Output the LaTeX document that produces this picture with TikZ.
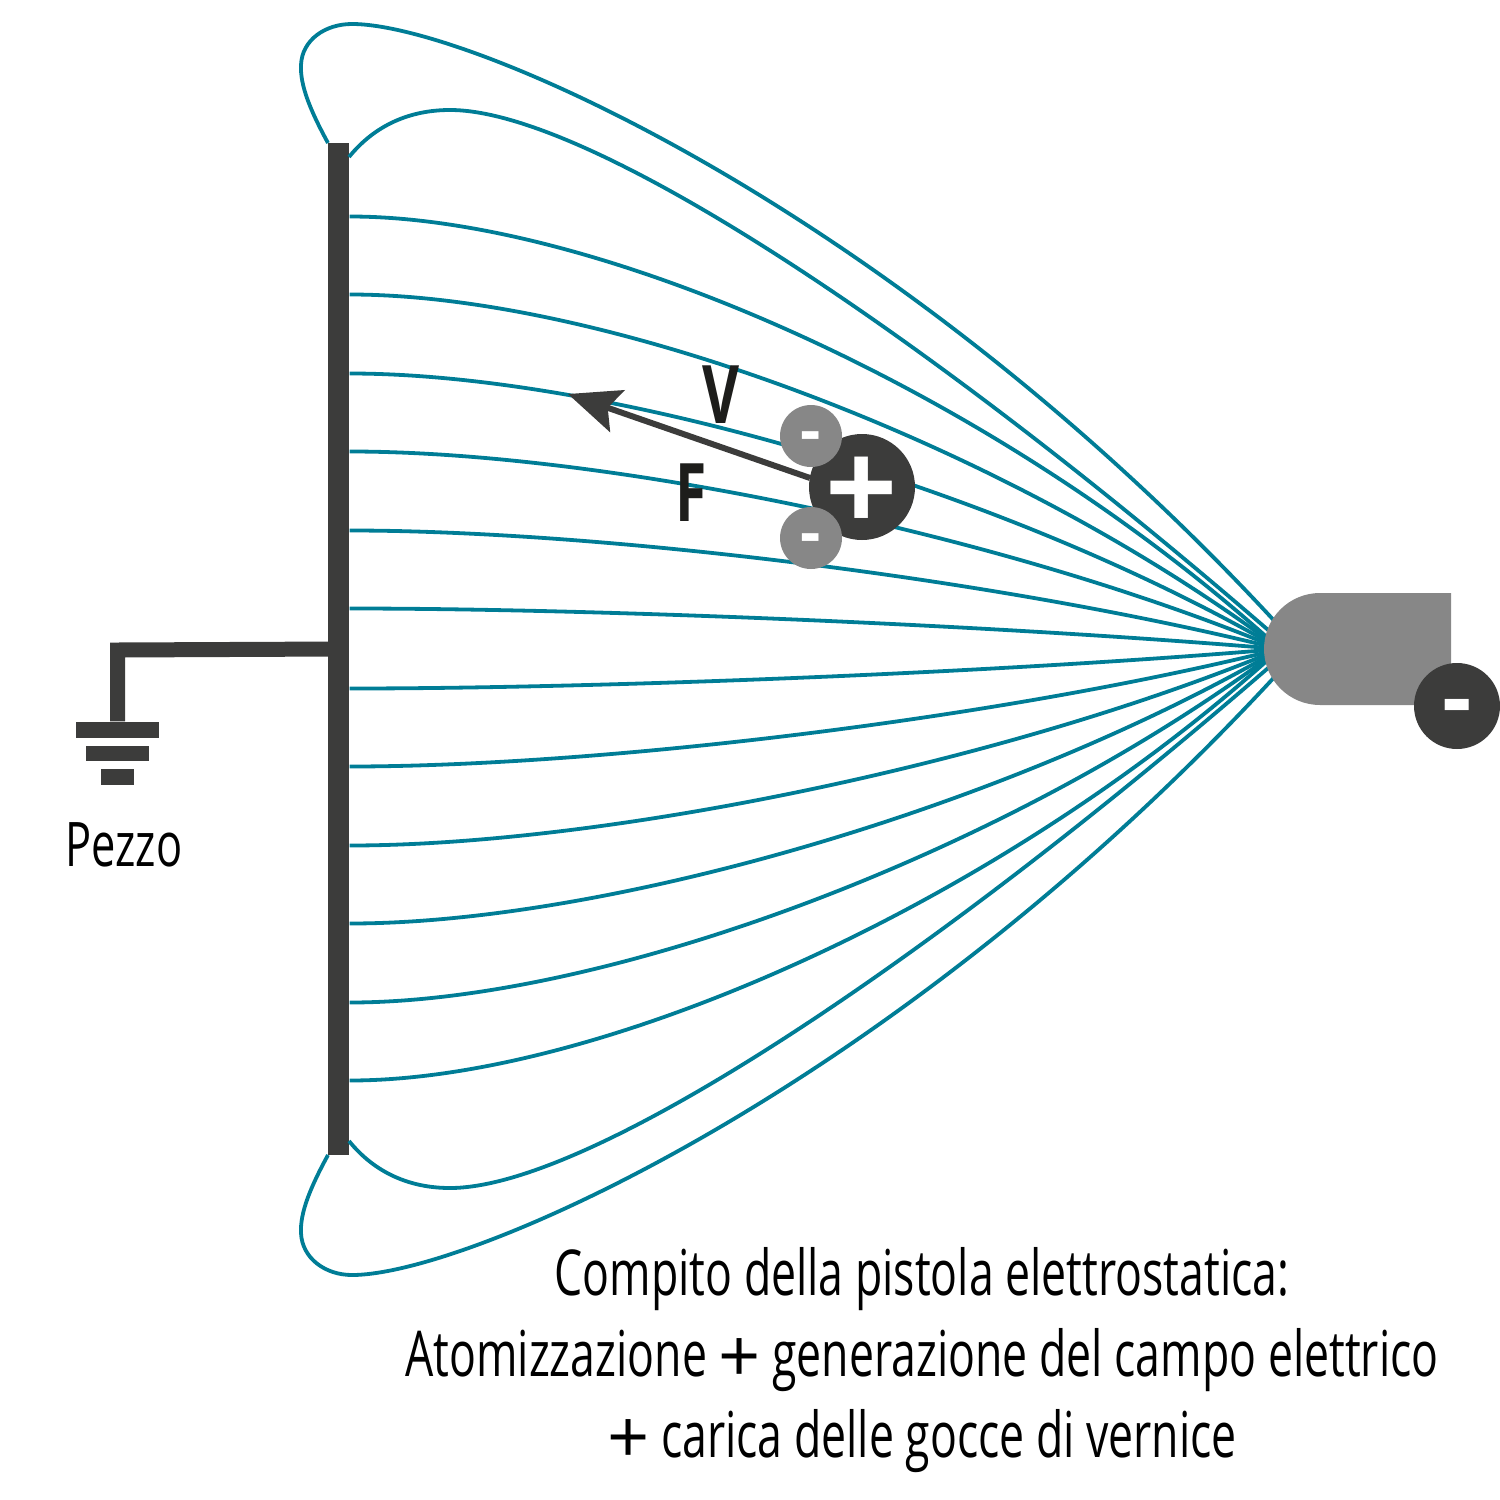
\documentclass[tikz,border=0pt]{standalone}
\usepackage{fontspec}
\setmainfont[FakeStretch=0.705]{Open Sans}
\newfontfamily\widefont{Open Sans}
\usetikzlibrary{arrows.meta}
\definecolor{fieldcol}{HTML}{007D96}
\definecolor{darkcol}{HTML}{3C3C3B}
\definecolor{greycol}{HTML}{878787}
\definecolor{inkcol}{HTML}{1D1D1B}
\newcommand{\pluschar}{\raisebox{-0.6mm}{\widefont\fontsize{21}{21}\selectfont +}}
\newcommand{\signchar}[2]{\makebox[0pt]{\smash{\raisebox{#1}{#2}}}}
\tikzset{
  field/.style={draw=fieldcol,line width=0.38mm},
  bar/.style={rectangle,fill=darkcol,inner sep=0pt},
  wire/.style={draw=darkcol,line width=1.5mm},
  force/.style={draw=darkcol,line width=0.6mm,-{Stealth[length=5.2mm,width=4.4mm,inset=1mm]}},
  bigcharge/.style={circle,fill=darkcol,text=white,inner sep=0pt},
  smallcharge/.style={circle,fill=greycol,text=white,inner sep=0pt,minimum size=6.2mm,font=\widefont\bfseries\fontsize{18}{18}\selectfont},
  letter/.style={text=inkcol,inner sep=0pt,font=\bfseries\fontsize{23}{23}\selectfont},
  caption/.style={text=black,inner sep=0pt,align=center,font=\fontsize{18}{23.05}\selectfont}
}
\begin{document}
\begin{tikzpicture}[x=0.1mm,y=-0.1mm]
\useasboundingbox (0,0) rectangle (1500,1500);

% plate
\node[bar,minimum width=2.1mm,minimum height=101.2mm] (plate) at (338.5,649) {};
\coordinate (mouth) at (1280,649);
\coordinate (mouthb) at (1290,649);
\coordinate (mouthc) at (1300,649);

% field lines
\foreach \d in {40,118,197,275,354,432} {
  \draw[field] (plate.east |- 0,648.5-\d) .. controls (600,648.5-\d) and (1000,649-0.59*\d) .. (mouth);
  \draw[field] (plate.east |- 0,648.5+\d) .. controls (600,648.5+\d) and (1000,649+0.59*\d) .. (mouth);
}

% loops
\draw[field] (349,157) .. controls (375,125) and (410,110) .. (450,110) .. controls (590,110) and (930,335) .. (mouthb);
\draw[field] (349,1141) .. controls (375,1173) and (410,1188) .. (450,1188) .. controls (590,1188) and (930,963) .. (mouthb);
\draw[field] (328,143) .. controls (310,110) and (300,85) .. (301,65) .. controls (302,40) and (325,24) .. (352,24) .. controls (470,24) and (910,215) .. (mouthc);
\draw[field] (328,1155) .. controls (310,1188) and (300,1213) .. (301,1233) .. controls (302,1258) and (325,1275) .. (352,1275) .. controls (470,1275) and (910,1083) .. (mouthc);

% gun
\fill[greycol] (1320,593) -- (1451,593) -- (1451,705) -- (1320,705) arc[start angle=270,end angle=90,radius=5.6mm] -- cycle;
\node[bigcharge,minimum size=8.6mm,font=\widefont\bfseries\fontsize{26}{26}\selectfont] (gunminus) at (1457,706) {\signchar{-2.33mm}{-}};

% ground
\node[bar,minimum width=8.3mm,minimum height=1.6mm] (gnda) at (117.5,730) {};
\node[bar,minimum width=6.3mm,minimum height=1.5mm] (gndb) at (117.5,753.5) {};
\node[bar,minimum width=3.3mm,minimum height=1.6mm] (gndc) at (117.5,777) {};
\draw[wire] (plate.center) -- (117.5,650) -- (gnda.north);
\node[caption,font=\fontsize{17.5}{23}\selectfont] (pezzo) at (124,845) {Pezzo};

% droplet
\coordinate (ftail) at (810,478);
\coordinate (ftip) at (568,394);
\draw[force] (ftail) -- (ftip);
\node[bigcharge,minimum size=10.6mm,font=\widefont\bfseries\fontsize{36}{36}\selectfont] (drop) at (862,487) {\signchar{-4.5mm}{+}};
\node[smallcharge] (mina) at (811,436) {\signchar{-1.6mm}{-}};
\node[smallcharge] (minb) at (811,538) {\signchar{-1.6mm}{-}};
\node[letter] (vlab) at (721,394.5) {V};
\node[letter] (flab) at (691,492.5) {F};

% caption
\node[caption] (cap) at (922,1360) {Compito della pistola elettrostatica:\\Atomizzazione \pluschar{} generazione del campo elettrico\\\pluschar{} carica delle gocce di vernice};
\end{tikzpicture}
\end{document}
